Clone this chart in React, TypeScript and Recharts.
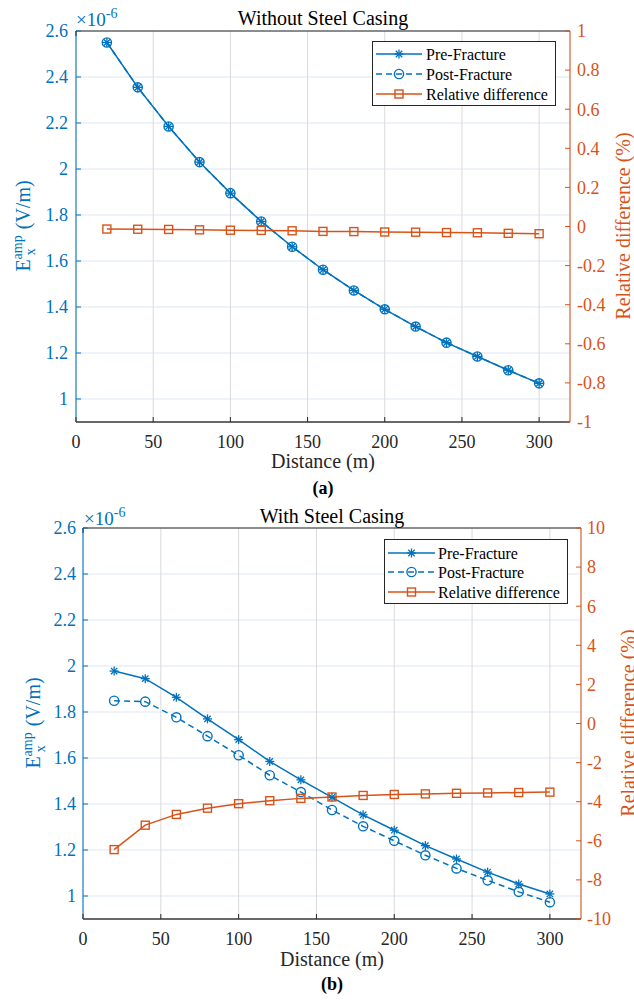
import React from "react";
import {
  ComposedChart,
  Line,
  XAxis,
  YAxis,
  CartesianGrid,
  Legend,
} from "recharts";

const BLUE = "#0072BD";
const ORANGE = "#D95319";
const AXIS_DARK = "#262626";
const FONT = '"Liberation Serif", "Times New Roman", serif';

// receiver offsets (m)
const distance = [20, 40, 60, 80, 100, 120, 140, 160, 180, 200, 220, 240, 260, 280, 300];

// Ex amplitude, in units of 1e-6 V/m
const preNoCasing = [2.55, 2.355, 2.185, 2.03, 1.895, 1.772, 1.662, 1.562, 1.472, 1.39, 1.315, 1.245, 1.185, 1.125, 1.068];
const postNoCasing = [2.55, 2.355, 2.185, 2.03, 1.895, 1.772, 1.662, 1.562, 1.472, 1.39, 1.315, 1.245, 1.185, 1.125, 1.068];
// relative difference (%)
const relNoCasing = [-0.013, -0.014, -0.015, -0.017, -0.019, -0.02, -0.022, -0.025, -0.026, -0.028, -0.029, -0.031, -0.032, -0.035, -0.037];

const preCasing = [1.978, 1.945, 1.864, 1.77, 1.68, 1.585, 1.505, 1.429, 1.353, 1.286, 1.219, 1.161, 1.104, 1.052, 1.009];
const postCasing = [1.849, 1.845, 1.777, 1.695, 1.612, 1.525, 1.452, 1.374, 1.303, 1.24, 1.177, 1.12, 1.068, 1.018, 0.973];
const relCasing = [-6.45, -5.2, -4.65, -4.33, -4.1, -3.95, -3.83, -3.76, -3.68, -3.63, -3.6, -3.57, -3.55, -3.53, -3.51];

const xTicks = [0, 50, 100, 150, 200, 250, 300];
const leftTicks = [1, 1.2, 1.4, 1.6, 1.8, 2, 2.2, 2.4, 2.6];
const rightTicksNoCasing = [-1, -0.8, -0.6, -0.4, -0.2, 0, 0.2, 0.4, 0.6, 0.8, 1];
const rightTicksCasing = [-10, -8, -6, -4, -2, 0, 2, 4, 6, 8, 10];

const seriesNames = ["Pre-Fracture", "Post-Fracture", "Relative difference"];

const fmt = (v: number) => String(Math.round(v * 10) / 10);

type MarkerKind = "star" | "circle" | "square";

function Marker({ kind, cx, cy, color }: { kind: MarkerKind; cx: number; cy: number; color: string }) {
  if (kind === "star") {
    const r = 4.5;
    const d = r * 0.7071;
    return (
      <g stroke={color} strokeWidth={1.3}>
        <line x1={cx - r} y1={cy} x2={cx + r} y2={cy} />
        <line x1={cx} y1={cy - r} x2={cx} y2={cy + r} />
        <line x1={cx - d} y1={cy - d} x2={cx + d} y2={cy + d} />
        <line x1={cx - d} y1={cy + d} x2={cx + d} y2={cy - d} />
      </g>
    );
  }
  if (kind === "circle") {
    return <circle cx={cx} cy={cy} r={4.6} fill="none" stroke={color} strokeWidth={1.4} />;
  }
  return <rect x={cx - 4} y={cy - 4} width={8} height={8} fill="none" stroke={color} strokeWidth={1.4} />;
}

const dotFor = (kind: MarkerKind, color: string) => (p: any) => {
  if (p.cx == null || p.cy == null) return <g key={`e-${kind}-${p.index}`} />;
  return (
    <g key={`${kind}-${p.index}`}>
      <Marker kind={kind} cx={p.cx} cy={p.cy} color={color} />
    </g>
  );
};

const labelStyle = { fontFamily: FONT };

// ticks drawn pointing into the plot, labels outside
const tickFor = (side: "left" | "right" | "bottom" | "top", color: string, margin: number, format = fmt) => (p: any) => {
  const { x, y, payload } = p;
  const L = 5;
  if (side === "left") {
    const ax = x + margin;
    return (
      <g>
        <line x1={ax} x2={ax + L} y1={y} y2={y} stroke={color} />
        <text x={x} y={y} dy="0.355em" textAnchor="end" fill={color} fontSize={18} style={labelStyle}>
          {format(payload.value)}
        </text>
      </g>
    );
  }
  if (side === "right") {
    const ax = x - margin;
    return (
      <g>
        <line x1={ax} x2={ax - L} y1={y} y2={y} stroke={color} />
        <text x={x} y={y} dy="0.355em" textAnchor="start" fill={color} fontSize={18} style={labelStyle}>
          {format(payload.value)}
        </text>
      </g>
    );
  }
  if (side === "bottom") {
    const ay = y - margin;
    return (
      <g>
        <line x1={x} x2={x} y1={ay} y2={ay - L} stroke={color} />
        <text x={x} y={y} dy="0.71em" textAnchor="middle" fill={color} fontSize={18} style={labelStyle}>
          {format(payload.value)}
        </text>
      </g>
    );
  }
  return <line x1={x} x2={x} y1={y} y2={y + L} stroke={color} />;
};

interface LegendBoxProps {
  width: number;
  height: number;
  rows: number[];
  lineEnd: number;
  textX: number;
}

function LegendBox({ width, height, rows, lineEnd, textX }: LegendBoxProps) {
  const kinds: MarkerKind[] = ["star", "circle", "square"];
  const colors = [BLUE, BLUE, ORANGE];
  const mid = (4 + lineEnd) / 2;
  return (
    <svg width={width} height={height} style={{ display: "block" }}>
      <rect x={0.5} y={0.5} width={width - 1} height={height - 1} fill="#fff" stroke={AXIS_DARK} />
      {seriesNames.map((name, i) => (
        <g key={name}>
          <line
            x1={4}
            x2={lineEnd}
            y1={rows[i]}
            y2={rows[i]}
            stroke={colors[i]}
            strokeWidth={1.5}
            strokeDasharray={i === 1 ? "6 4" : undefined}
          />
          <Marker kind={kinds[i]} cx={mid} cy={rows[i]} color={colors[i]} />
          <text x={textX} y={rows[i]} dy="0.35em" fontSize={16} style={labelStyle} fill="#000">
            {name}
          </text>
        </g>
      ))}
    </svg>
  );
}

interface PanelProps {
  top: number;
  height: number;
  margin: { top: number; right: number; bottom: number; left: number };
  rightWidth: number;
  pre: number[];
  post: number[];
  rel: number[];
  rightTicks: number[];
  leftMargin: number;
  rightMargin: number;
  title: string;
  caption: string;
  legend: { left: number; top: number; rows: number[]; lineEnd: number; textX: number };
  text: {
    titleX: number;
    titleY: number;
    multX: number;
    multY: number;
    leftLabelX: number;
    rightLabelX: number;
    labelY: number;
    xLabelY: number;
    captionY: number;
  };
}

function Panel(props: PanelProps) {
  const { top, height, margin, rightWidth, pre, post, rel, rightTicks, title, caption, legend, text } = props;
  const data = distance.map((d, i) => ({ d, pre: pre[i], post: post[i], rel: rel[i] }));
  const rMin = rightTicks[0];
  const rMax = rightTicks[rightTicks.length - 1];
  return (
    <div style={{ position: "absolute", left: 0, top, width: 634, height }}>
      <ComposedChart width={634} height={height} data={data} margin={margin}>
        <CartesianGrid horizontal vertical={false} stroke="#dce7f2" />
        <CartesianGrid horizontal={false} vertical stroke="#dadada" />
        <XAxis
          dataKey="d"
          type="number"
          domain={[0, 320]}
          ticks={xTicks}
          interval={0}
          height={30}
          tickSize={0}
          tickMargin={13}
          tickLine={false}
          axisLine={{ stroke: "#3a3a3a", strokeWidth: 1.6 }}
          tick={tickFor("bottom", AXIS_DARK, 13)}
        />
        <XAxis
          xAxisId="top"
          orientation="top"
          type="number"
          domain={[0, 320]}
          ticks={xTicks}
          interval={0}
          height={1}
          tickSize={0}
          tickMargin={0}
          tickLine={false}
          axisLine={{ stroke: AXIS_DARK }}
          tick={tickFor("top", AXIS_DARK, 0)}
        />
        <YAxis
          type="number"
          domain={[0.9, 2.6]}
          ticks={leftTicks}
          interval={0}
          width={60}
          tickSize={0}
          tickMargin={props.leftMargin}
          tickLine={false}
          axisLine={{ stroke: BLUE }}
          tick={tickFor("left", BLUE, props.leftMargin)}
        />
        <YAxis
          yAxisId="r"
          orientation="right"
          type="number"
          domain={[rMin, rMax]}
          ticks={rightTicks}
          interval={0}
          width={rightWidth}
          tickSize={0}
          tickMargin={props.rightMargin}
          tickLine={false}
          axisLine={{ stroke: ORANGE }}
          tick={tickFor("right", ORANGE, props.rightMargin)}
        />
        <Line
          type="linear"
          dataKey="pre"
          name={seriesNames[0]}
          stroke={BLUE}
          strokeWidth={1.5}
          dot={dotFor("star", BLUE)}
          activeDot={false}
          isAnimationActive={false}
        />
        <Line
          type="linear"
          dataKey="post"
          name={seriesNames[1]}
          stroke={BLUE}
          strokeWidth={1.5}
          strokeDasharray="6 4"
          dot={dotFor("circle", BLUE)}
          activeDot={false}
          isAnimationActive={false}
        />
        <Line
          type="linear"
          dataKey="rel"
          yAxisId="r"
          name={seriesNames[2]}
          stroke={ORANGE}
          strokeWidth={1.5}
          dot={dotFor("square", ORANGE)}
          activeDot={false}
          isAnimationActive={false}
        />
        <Legend
          layout="vertical"
          align="center"
          verticalAlign="middle"
          wrapperStyle={{ left: legend.left, top: legend.top, width: 184, height: 65 }}
          content={() => (
            <LegendBox width={184} height={65} rows={legend.rows} lineEnd={legend.lineEnd} textX={legend.textX} />
          )}
        />
      </ComposedChart>
      <svg
        width={634}
        height={height}
        style={{ position: "absolute", left: 0, top: 0, pointerEvents: "none", fontFamily: FONT }}
      >
        <text x={text.multX} y={text.multY} fontSize={19} fill={BLUE}>
          ×10
          <tspan dy={-8} fontSize={14}>
            -6
          </tspan>
        </text>
        <text x={text.titleX} y={text.titleY} fontSize={20} textAnchor="middle" fill="#000">
          {title}
        </text>
        <text
          transform={`translate(${text.leftLabelX}, ${text.labelY}) rotate(-90)`}
          textAnchor="middle"
          fontSize={20}
          fill={BLUE}
        >
          E
          <tspan dy={-8} fontSize={14}>
            amp
          </tspan>
          <tspan dx={-20} dy={13} fontSize={14}>
            x
          </tspan>
          <tspan dx={14} dy={-5}>
            {" (V/m)"}
          </tspan>
        </text>
        <text
          transform={`translate(${text.rightLabelX}, ${text.labelY}) rotate(-90)`}
          textAnchor="middle"
          fontSize={20}
          fill={ORANGE}
        >
          Relative difference (%)
        </text>
        <text x={text.titleX} y={text.xLabelY} fontSize={20} textAnchor="middle" fill={AXIS_DARK}>
          Distance (m)
        </text>
        <text x={text.titleX} y={text.captionY} fontSize={18} fontWeight="bold" textAnchor="middle" fill="#000">
          {caption}
        </text>
      </svg>
    </div>
  );
}

export default function App() {
  return (
    <div style={{ position: "absolute", left: 0, top: 0, width: 634, height: 1001, background: "#fff" }}>
      <Panel
        top={0}
        height={500}
        margin={{ top: 30, right: 14, bottom: 48, left: 16 }}
        rightWidth={50}
        pre={preNoCasing}
        post={postNoCasing}
        rel={relNoCasing}
        rightTicks={rightTicksNoCasing}
        leftMargin={8}
        rightMargin={7}
        title="Without Steel Casing"
        caption="(a)"
        legend={{ left: 372, top: 41, rows: [13, 33, 53], lineEnd: 50, textX: 54 }}
        text={{
          titleX: 323,
          titleY: 25,
          multX: 76,
          multY: 26,
          leftLabelX: 30,
          rightLabelX: 630,
          labelY: 226,
          xLabelY: 468,
          captionY: 494,
        }}
      />
      <Panel
        top={500}
        height={501}
        margin={{ top: 27, right: 8, bottom: 52, left: 23 }}
        rightWidth={45}
        pre={preCasing}
        post={postCasing}
        rel={relCasing}
        rightTicks={rightTicksCasing}
        leftMargin={7}
        rightMargin={6}
        title="With Steel Casing"
        caption="(b)"
        legend={{ left: 384, top: 39, rows: [14, 33, 53], lineEnd: 51, textX: 54 }}
        text={{
          titleX: 332,
          titleY: 23,
          multX: 84,
          multY: 25,
          leftLabelX: 40,
          rightLabelX: 635,
          labelY: 223,
          xLabelY: 466,
          captionY: 490,
        }}
      />
    </div>
  );
}
